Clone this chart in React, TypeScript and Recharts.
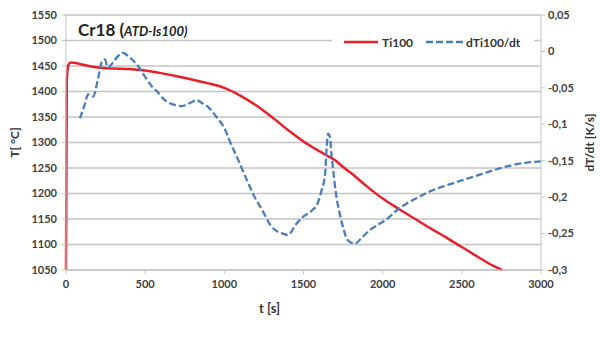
import { LineChart, Line, XAxis, YAxis, CartesianGrid, Legend, Label } from "recharts";

const tempTime = [0, 5, 15, 30, 60, 100, 200, 300, 400, 500, 600, 700, 800, 900, 1000, 1100, 1200, 1300, 1400, 1500, 1600, 1650, 1700, 1750, 1800, 1900, 2000, 2100, 2200, 2300, 2400, 2500, 2600, 2700, 2755];
const tempValues = [1050, 1420, 1452, 1457, 1456, 1453, 1447, 1445, 1444, 1441, 1436, 1430, 1423, 1416, 1407, 1392, 1373, 1350, 1325, 1302, 1283, 1274, 1265, 1252, 1240, 1214, 1190, 1170, 1151, 1132, 1114, 1095, 1076, 1058, 1050];

const rateTime = [88, 120, 139, 171, 200, 227, 246, 265, 300, 330, 360, 400, 455, 500, 543, 580, 625, 680, 733, 780, 827, 860, 897, 950, 1004, 1036, 1090, 1143, 1190, 1245, 1290, 1333, 1370, 1402, 1450, 1497, 1550, 1592, 1615, 1636, 1647, 1655, 1667, 1676, 1686, 1705, 1730, 1755, 1775, 1825, 1870, 1920, 1970, 2027, 2090, 2150, 2200, 2300, 2400, 2500, 2600, 2700, 2800, 2900, 3000];
const rateValues = [-0.092, -0.072, -0.059, -0.062, -0.04, -0.014, -0.011, -0.022, -0.014, -0.006, -0.002, -0.008, -0.02, -0.035, -0.048, -0.056, -0.067, -0.073, -0.075, -0.071, -0.067, -0.071, -0.076, -0.09, -0.107, -0.124, -0.15, -0.177, -0.199, -0.22, -0.238, -0.247, -0.25, -0.252, -0.238, -0.227, -0.219, -0.207, -0.19, -0.169, -0.13, -0.113, -0.118, -0.14, -0.16, -0.195, -0.224, -0.245, -0.258, -0.264, -0.255, -0.245, -0.238, -0.23, -0.218, -0.209, -0.203, -0.192, -0.184, -0.177, -0.17, -0.163, -0.157, -0.153, -0.151];

const xTicks = [0, 500, 1000, 1500, 2000, 2500, 3000];
const tempTicks = [1050, 1100, 1150, 1200, 1250, 1300, 1350, 1400, 1450, 1500, 1550];
const rateTicks = [0.05, 0, -0.05, -0.1, -0.15, -0.2, -0.25, -0.3];

const tempData = tempTime.map((t, i) => ({ t, T: tempValues[i] }));
const rateData = rateTime.map((t, i) => ({ t, dT: rateValues[i] }));

const font = "Lato, 'Open Sans', sans-serif";
const RED = "#e8202a";
const BLUE = "#4a7ebb";
const GRID = "#c4c4c4";
const tick = { fill: "#404040", fontSize: 11, fontWeight: 700, fontFamily: font };

const renderLegend = () => (
  <div style={{ display: "flex", alignItems: "center", height: 20, fontFamily: font, fontSize: 12, fontWeight: 700, color: "#333" }}>
    <svg width={36} height={10} style={{ marginLeft: 12 }}>
      <line x1={0} y1={5} x2={34} y2={5} stroke={RED} strokeWidth={2.5} />
    </svg>
    <span style={{ marginLeft: 2 }}>Ti100</span>
    <svg width={38} height={10} style={{ marginLeft: 13 }}>
      <line x1={0} y1={5} x2={37} y2={5} stroke={BLUE} strokeWidth={2.3} strokeDasharray="7 3" />
    </svg>
    <span style={{ marginLeft: 2 }}>dTi100/dt</span>
  </div>
);

export default function App() {
  return (
    <div style={{ position: "absolute", left: 0, top: 0, width: 600, height: 340, background: "#fff" }}>
      <LineChart width={600} height={340} margin={{ top: 15, right: 15, bottom: 20, left: 15 }}>
        <CartesianGrid yAxisId="left" vertical={false} stroke={GRID} strokeWidth={1.3} />
        <XAxis
          dataKey="t"
          type="number"
          domain={[0, 3000]}
          ticks={xTicks}
          allowDuplicatedCategory={false}
          stroke={GRID}
          tickSize={4}
          tickMargin={6}
          tick={tick}
          height={30}
        >
          <Label value="t [s]" position="center" dx={-34} dy={23} style={{ fill: "#333", fontSize: 13, fontWeight: 700, fontFamily: font }} />
        </XAxis>
        <YAxis
          yAxisId="left"
          domain={[1050, 1550]}
          ticks={tempTicks}
          stroke={GRID}
          tickSize={4}
          tickMargin={5}
          tick={tick}
          width={51}
        >
          <Label value="T[ °C]" angle={-90} position="center" dx={-26} style={{ fill: "#333", fontSize: 12, fontWeight: 700, fontFamily: font, textAnchor: "middle" }} />
        </YAxis>
        <YAxis
          yAxisId="right"
          orientation="right"
          domain={[-0.3, 0.05]}
          ticks={rateTicks}
          stroke={GRID}
          tickSize={4}
          tickMargin={3}
          tick={tick}
          tickFormatter={(v: number) => String(v).replace(".", ",")}
          width={44}
        >
          <Label value="dT/dt [K/s]" angle={-90} position="center" dx={27} style={{ fill: "#333", fontSize: 12, fontWeight: 700, fontFamily: font, textAnchor: "middle" }} />
        </YAxis>
        <Legend content={renderLegend} wrapperStyle={{ left: 332, top: 32, width: 202, height: 20, background: "#fff" }} />
        <Line yAxisId="left" data={tempData} dataKey="T" name="Ti100" stroke={RED} strokeWidth={2.5} dot={false} isAnimationActive={false} type="monotone" />
        <Line yAxisId="right" data={rateData} dataKey="dT" name="dTi100/dt" stroke={BLUE} strokeWidth={2.3} strokeDasharray="7 3" dot={false} isAnimationActive={false} type="monotone" />
      </LineChart>
      <div style={{ position: "absolute", left: 78, top: 19, fontFamily: font, color: "#222", whiteSpace: "nowrap" }}>
        <span style={{ fontSize: 17, fontWeight: 700 }}>Cr18 (</span>
        <span style={{ fontSize: 13, fontWeight: 700, fontStyle: "italic" }}>ATD-Is100)</span>
      </div>
    </div>
  );
}
